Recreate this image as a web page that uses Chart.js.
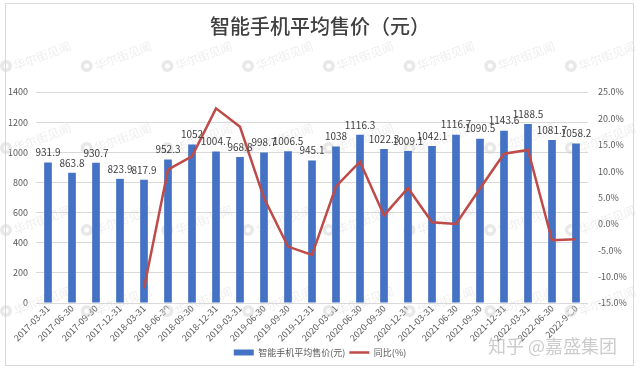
<!DOCTYPE html>
<html><head><meta charset="utf-8">
<script src="https://cdn.jsdelivr.net/npm/chart.js@4/dist/chart.umd.min.js"></script>
<style>
html,body{margin:0;padding:0;background:#fff;}
#wrap{position:relative;width:640px;height:371px;}
#frame{position:absolute;left:5px;top:3px;width:627px;height:361px;border:1px solid #d9d9d9;pointer-events:none;}
canvas{position:absolute;left:0;top:0;}
</style></head>
<body>
<div id="wrap"><canvas id="c" width="640" height="371"></canvas><div id="frame"></div></div>
<script>
const categories = ['2017-03-31','2017-06-30','2017-09-30','2017-12-31','2018-03-31','2018-06-30','2018-09-30','2018-12-31','2019-03-31','2019-06-30','2019-09-30','2019-12-31','2020-03-31','2020-06-30','2020-09-30','2020-12-31','2021-03-31','2021-06-30','2021-09-30','2021-12-31','2022-03-31','2022-06-30','2022-9-30'];
const avgPrice = [931.9,863.8,930.7,823.9,817.9,952.3,1052,1004.7,968.8,998.7,1006.5,945.1,1038,1116.3,1022.3,1009.1,1042.1,1116.7,1090.5,1143.6,1188.5,1081.7,1058.2];
const yoyPct = [null,null,null,null,-12.2,10.3,12.8,21.9,18.4,4.9,-4.3,-5.9,7.1,11.8,1.6,6.8,0.3,0.0,6.7,13.3,14.0,-3.1,-2.9];
const priceLabels = ['931.9','863.8','930.7','823.9','817.9','952.3','1052','1004.7','968.8','998.7','1006.5','945.1','1038','1116.3','1022.3','1009.1','1042.1','1116.7','1090.5','1143.6','1188.5','1081.7','1058.2'];

const CJK = '"Noto Sans CJK SC", "Microsoft YaHei", sans-serif';
const TXT = '#595959';

const bgMarks = {
  id:'bgMarks',
  beforeDatasetsDraw(chart){
    const ctx = chart.ctx;
    ctx.save();
    const rows = [66,148,230,311];
    for (const ry of rows){
      for (let k=0;k<8;k++){
        const cx = 6 + k*80.7;
        ctx.fillStyle = 'rgba(205,205,205,0.45)';
        ctx.beginPath(); ctx.arc(cx, ry, 6, 0, Math.PI*2); ctx.fill();
        ctx.fillStyle = 'rgba(255,255,255,0.9)';
        ctx.beginPath(); ctx.arc(cx, ry, 2.5, 0, Math.PI*2); ctx.fill();
        ctx.save();
        ctx.translate(cx+9, ry+3);
        ctx.rotate(-0.35);
        ctx.font = '12px ' + CJK;
        ctx.fillStyle = 'rgba(205,205,205,0.35)';
        ctx.textBaseline = 'middle';
        ctx.fillText('华尔街见闻', 0, -3);
        ctx.restore();
      }
    }
    ctx.restore();
  }
};

const barLabels = {
  id:'barLabels',
  afterDatasetsDraw(chart){
    const meta = chart.getDatasetMeta(0);
    const ctx = chart.ctx;
    ctx.save();
    ctx.font = '10px ' + CJK;
    ctx.fillStyle = '#404040';
    ctx.textAlign = 'center';
    ctx.textBaseline = 'middle';
    meta.data.forEach((el,i)=>{
      ctx.fillText(priceLabels[i], el.x, el.y - 10);
    });
    ctx.restore();
  }
};
const watermark = {
  id:'watermark',
  afterDraw(chart){
    const ctx = chart.ctx;
    ctx.save();
    ctx.font = '18px ' + CJK;
    ctx.fillStyle = 'rgba(170,170,170,0.6)';
    ctx.textAlign = 'left';
    ctx.textBaseline = 'middle';
    ctx.fillText('知乎 @嘉盛集团', 488, 346);
    ctx.restore();
  }
};

new Chart(document.getElementById('c'), {
  type:'bar',
  data:{
    labels: categories,
    datasets:[
      {type:'bar', label:'智能手机平均售价(元)', data: avgPrice, backgroundColor:'#4472C4', yAxisID:'y', order:1,
       categoryPercentage:1, barPercentage:0.32, pointStyle:'rect'},
      {type:'line', label:'同比(%)', data: yoyPct, borderColor:'#BE4B48', backgroundColor:'#BE4B48', borderWidth:2.5,
       pointRadius:0, pointStyle:'line', yAxisID:'y1', order:0, spanGaps:false, tension:0}
    ]
  },
  options:{
    responsive:false, animation:false,
    layout:{padding:{left:0,right:0,top:0,bottom:4}},
    plugins:{
      title:{display:true, text:'智能手机平均售价（元）', color:'#404040', font:{family:CJK,size:20,weight:'500'}, padding:{top:14,bottom:54}},
      legend:{position:'bottom',
        labels:{sort:(a,b)=>a.datasetIndex-b.datasetIndex, color:TXT, font:{family:CJK,size:9},
          usePointStyle:true, pointStyleWidth:20, boxHeight:6, padding:4}},
      tooltip:{enabled:false}
    },
    scales:{
      x:{grid:{display:false, drawTicks:false}, border:{display:false}, afterFit:s=>{s.height=41;},
         ticks:{color:TXT, font:{family:CJK,size:9}, maxRotation:45, minRotation:45, autoSkip:false, padding:0}},
      y:{position:'left', min:0, max:1400, afterFit:s=>{s.width=36;},
         ticks:{stepSize:200, color:TXT, font:{family:CJK,size:9}, padding:8, callback:v=>String(v)},
         grid:{color:'#d9d9d9', drawTicks:false}, border:{display:false}},
      y1:{position:'right', min:-15, max:25, afterFit:s=>{s.width=52;},
         ticks:{stepSize:5, color:TXT, font:{family:CJK,size:9}, padding:10, callback:v=>v.toFixed(1)+'%'},
         grid:{display:false, drawTicks:false}, border:{display:false}}
    }
  },
  plugins:[bgMarks, barLabels, watermark]
});
</script>
</body></html>
